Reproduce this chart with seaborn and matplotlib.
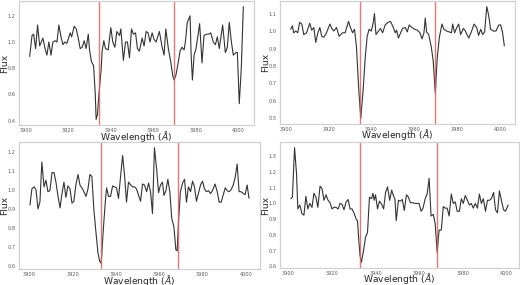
import numpy as np
import matplotlib
matplotlib.use("Agg")
import matplotlib.pyplot as plt
import seaborn as sns

# Espectros alrededor de las lineas H y K del Ca II
wl_a = [3901.9, 3903.0, 3903.75, 3904.7, 3905.6, 3906.6, 3908.1, 3909.1, 3910.0, 3910.9,
        3911.9, 3912.8, 3913.9, 3914.7, 3915.6, 3916.6, 3917.5, 3918.4, 3919.4, 3920.9,
        3921.6, 3922.8, 3923.75, 3924.7, 3925.6, 3926.6, 3927.5, 3928.4, 3929.4, 3930.0,
        3930.9, 3931.9, 3932.7, 3933.1, 3933.75, 3934.4, 3935.5, 3935.9, 3936.7, 3937.5,
        3938.75, 3940.0, 3940.9, 3941.9, 3942.8, 3944.1, 3944.7, 3945.9, 3946.9, 3947.8,
        3948.75, 3949.7, 3950.6, 3951.6, 3952.5, 3953.4, 3954.7, 3955.6, 3956.6, 3957.5,
        3958.4, 3959.4, 3960.3, 3961.25, 3962.8, 3964.1, 3965.0, 3965.8, 3967.0, 3968.1,
        3969.1, 3969.7, 3970.6, 3971.7, 3972.5, 3973.4, 3974.4, 3975.0, 3975.9, 3977.2,
        3977.7, 3978.3, 3979.1, 3980.0, 3980.9, 3981.7, 3982.8, 3983.75, 3985.0, 3985.9,
        3986.9, 3988.1, 3989.1, 3990.0, 3990.9, 3992.5, 3993.75, 3994.7, 3995.6, 3996.6,
        3997.5, 3998.75, 3999.4, 4000.3, 4001.25, 4002.2]
flux_a = [0.89, 1.05, 1.06, 0.95, 1.13, 0.97, 1.03, 0.95, 0.90, 1.00,
          0.90, 1.00, 1.01, 1.00, 1.13, 1.04, 0.98, 1.00, 0.99, 1.07,
          1.04, 1.12, 1.10, 1.03, 0.95, 0.96, 1.01, 0.95, 1.06, 0.94,
          0.85, 0.82, 0.60, 0.41, 0.45, 0.60, 0.80, 0.93, 1.01, 0.95,
          0.94, 1.11, 1.00, 0.96, 1.08, 1.05, 1.10, 0.86, 1.00, 1.00,
          0.88, 1.10, 1.06, 1.07, 0.95, 0.93, 1.03, 0.97, 1.08, 1.07,
          1.00, 1.07, 1.02, 1.00, 1.08, 0.96, 0.90, 1.10, 0.95, 0.85,
          0.74, 0.71, 0.75, 0.85, 0.93, 0.96, 0.94, 1.00, 1.15, 1.20,
          0.90, 0.71, 0.90, 0.95, 1.05, 1.14, 0.84, 1.05, 1.06, 1.06,
          1.07, 1.00, 0.98, 1.04, 0.95, 1.13, 0.92, 0.96, 1.15, 1.00,
          0.90, 0.92, 0.92, 0.53, 0.80, 1.27]

wl_b = [3902.3, 3903.1, 3903.7, 3904.7, 3905.6, 3906.5, 3907.5, 3908.4, 3909.7, 3911.2,
        3912.1, 3913.1, 3914.0, 3915.0, 3915.9, 3916.8, 3917.8, 3919.0, 3920.6, 3921.5,
        3922.4, 3923.7, 3924.9, 3926.5, 3927.7, 3929.3, 3930.2, 3931.2, 3932.1, 3933.0,
        3934.0, 3935.0, 3936.1, 3937.1, 3938.0, 3938.9, 3939.9, 3940.8, 3941.4, 3942.1,
        3943.3, 3944.2, 3945.2, 3946.4, 3947.7, 3948.9, 3950.2, 3951.1, 3951.7, 3952.6,
        3953.6, 3954.5, 3955.8, 3956.7, 3957.6, 3958.9, 3960.1, 3961.4, 3962.6, 3963.6,
        3964.5, 3965.1, 3965.7, 3966.7, 3967.9, 3968.8, 3969.8, 3970.7, 3971.7, 3972.9,
        3973.8, 3975.1, 3976.3, 3977.3, 3977.9, 3978.8, 3979.8, 3980.7, 3981.6, 3982.9,
        3983.8, 3985.4, 3986.6, 3987.9, 3989.1, 3990.0, 3991.0, 3991.9, 3992.8, 3993.8,
        3994.7, 3995.6, 3996.9, 3998.1, 3999.4, 4000.3, 4001.2, 4002.0]
flux_b = [1.01, 1.03, 0.99, 1.00, 0.99, 1.05, 1.04, 0.98, 0.99, 1.045,
          1.005, 1.02, 0.935, 0.99, 1.02, 0.97, 0.965, 0.99, 1.04, 1.015,
          1.00, 1.02, 0.97, 0.99, 0.99, 1.055, 1.02, 0.99, 1.01, 0.91,
          0.68, 0.50, 0.66, 0.85, 0.97, 1.01, 1.00, 1.045, 1.10, 0.98,
          1.00, 1.015, 0.99, 1.035, 1.05, 1.055, 1.02, 0.99, 1.005, 0.96,
          0.99, 1.015, 1.02, 0.995, 1.035, 1.02, 1.01, 1.005, 0.99, 0.955,
          0.99, 1.075, 0.995, 0.98, 0.91, 0.83, 0.645, 0.85, 0.965, 1.04,
          1.01, 1.00, 0.995, 0.99, 1.04, 0.99, 1.02, 1.04, 0.98, 1.015,
          1.00, 0.96, 0.995, 1.04, 1.02, 0.975, 1.01, 0.98, 0.995, 1.14,
          1.09, 1.01, 1.00, 1.00, 1.035, 1.035, 0.99, 0.915]

wl_c = [3900.3, 3901.2, 3902.2, 3903.1, 3904.0, 3904.9, 3905.8, 3906.8, 3907.7, 3908.6,
        3909.5, 3910.5, 3911.4, 3912.3, 3913.2, 3914.2, 3915.1, 3916.0, 3916.9, 3917.8,
        3918.8, 3919.7, 3920.6, 3921.5, 3922.5, 3923.4, 3924.3, 3925.2, 3926.2, 3927.1,
        3928.0, 3928.9, 3929.8, 3930.8, 3931.7, 3932.5, 3933.2, 3934.2, 3935.1, 3935.7,
        3936.6, 3937.5, 3938.5, 3939.4, 3940.3, 3941.2, 3942.2, 3943.1, 3944.0, 3944.9,
        3945.8, 3946.8, 3947.7, 3948.6, 3949.5, 3950.5, 3951.4, 3952.3, 3953.2, 3954.2,
        3955.1, 3956.0, 3956.9, 3957.8, 3958.8, 3959.7, 3960.6, 3961.5, 3962.2, 3963.1,
        3964.0, 3964.9, 3965.8, 3966.8, 3967.7, 3968.3, 3968.9, 3969.8, 3970.8, 3971.7,
        3972.6, 3973.5, 3974.5, 3975.4, 3976.3, 3977.2, 3978.2, 3979.1, 3980.0, 3980.9,
        3981.8, 3982.8, 3983.7, 3984.6, 3985.8, 3986.8, 3987.7, 3988.6, 3989.5, 3990.5,
        3991.4, 3992.3, 3993.2, 3994.2, 3995.1, 3996.0, 3996.9, 3997.8, 3998.8, 3999.7,
        4000.6, 4001.5]
flux_c = [0.92, 1.005, 1.015, 1.00, 0.90, 0.935, 1.145, 1.015, 1.05, 0.99,
          0.995, 1.09, 1.09, 1.04, 0.97, 0.905, 0.98, 1.04, 0.96, 1.02,
          1.005, 0.93, 0.94, 1.025, 1.08, 1.025, 1.01, 0.99, 0.965, 1.005,
          1.08, 1.07, 0.90, 0.775, 0.67, 0.625, 0.615, 0.795, 0.935, 1.01,
          0.965, 0.965, 1.02, 1.015, 1.01, 0.955, 1.075, 1.18, 1.075, 0.935,
          1.04, 1.025, 1.015, 1.015, 1.005, 0.97, 0.94, 1.03, 1.025, 0.99,
          1.035, 0.99, 0.875, 1.22, 1.11, 0.985, 1.025, 1.04, 0.97, 0.995,
          1.055, 0.99, 0.85, 0.805, 0.685, 0.68, 0.83, 0.99, 1.035, 1.055,
          0.935, 1.015, 0.99, 1.045, 1.015, 0.94, 0.985, 1.025, 1.045, 1.005,
          0.99, 0.995, 0.98, 0.995, 1.03, 0.99, 0.935, 0.935, 0.97, 1.01,
          0.995, 0.99, 1.00, 1.025, 1.065, 1.135, 0.99, 0.99, 0.98, 0.975,
          1.025, 0.955]

wl_d = [3901.1, 3901.8, 3902.8, 3903.7, 3904.3, 3905.2, 3906.2, 3907.1, 3908.0, 3908.9,
        3909.8, 3910.8, 3911.7, 3912.6, 3913.5, 3914.5, 3915.4, 3916.3, 3917.2, 3918.2,
        3919.1, 3920.0, 3920.9, 3921.8, 3922.8, 3923.7, 3924.6, 3925.5, 3926.5, 3927.4,
        3928.3, 3929.2, 3930.2, 3931.1, 3931.7, 3932.3, 3932.9, 3933.5, 3934.5, 3935.4,
        3936.3, 3937.2, 3938.2, 3938.8, 3939.4, 3940.0, 3940.9, 3941.8, 3942.8, 3943.7,
        3944.6, 3945.5, 3946.5, 3947.4, 3948.3, 3948.9, 3949.5, 3950.5, 3951.4, 3952.3,
        3953.2, 3954.2, 3955.1, 3956.0, 3956.9, 3958.2, 3959.1, 3960.0, 3960.9, 3961.8,
        3962.8, 3963.7, 3964.6, 3965.5, 3966.5, 3967.4, 3968.3, 3969.2, 3970.2, 3971.1,
        3972.0, 3972.9, 3973.8, 3974.8, 3975.7, 3976.6, 3977.5, 3978.5, 3979.4, 3980.3,
        3981.2, 3982.2, 3983.1, 3984.0, 3984.9, 3985.8, 3986.8, 3987.7, 3988.6, 3989.5,
        3990.5, 3991.4, 3992.3, 3993.2, 3994.2, 3995.1, 3996.0, 3996.9, 3997.8, 3998.8,
        3999.7, 4000.9]
flux_d = [1.03, 1.04, 1.355, 1.19, 0.965, 0.99, 0.935, 0.925, 1.045, 0.965,
          1.00, 0.975, 1.065, 1.04, 0.975, 1.11, 1.095, 1.02, 1.055, 1.02,
          1.005, 0.965, 0.975, 0.975, 0.965, 1.00, 0.995, 0.96, 1.01, 1.025,
          0.965, 0.965, 0.935, 0.90, 0.89, 0.765, 0.665, 0.625, 0.70, 0.785,
          0.815, 1.04, 1.03, 1.065, 1.02, 1.055, 0.965, 1.015, 0.995, 0.965,
          1.07, 1.105, 1.02, 1.085, 1.045, 1.03, 0.89, 1.02, 1.015, 1.025,
          0.955, 1.055, 1.04, 1.005, 1.005, 1.00, 1.00, 1.00, 0.95, 0.97,
          1.03, 1.06, 1.16, 0.92, 0.93, 0.87, 0.69, 0.83, 0.83, 0.98,
          0.97, 0.97, 0.92, 1.06, 1.00, 1.01, 0.95, 0.95, 1.03, 1.00,
          1.05, 1.02, 0.99, 1.00, 0.97, 1.00, 0.97, 1.06, 1.00, 1.03,
          0.95, 1.02, 1.02, 1.03, 1.07, 0.96, 0.94, 1.08, 1.02, 0.96,
          0.95, 0.99]

# posiciones de Ca II K y H marcadas en cada panel
lines_a = [3934.5, 3969.6]
lines_b = [3934.8, 3969.7]
lines_c = [3933.3, 3968.8]
lines_d = [3932.9, 3968.2]

panels = [
    (wl_a, flux_a, lines_a, [19, 1, 254, 125]),
    (wl_b, flux_b, lines_b, [280, 1, 515, 124]),
    (wl_c, flux_c, lines_c, [19, 142, 260, 269]),
    (wl_d, flux_d, lines_d, [280, 142, 519, 268]),
]

sns.set_style("white", {"axes.edgecolor": ".82", "xtick.color": ".35", "ytick.color": ".35"})
plt.rcParams["font.family"] = ["DejaVu Sans"]

W, H = 520, 285
fig = plt.figure(figsize=(W / 100, H / 100), dpi=100)

for wl, fl, lines, (x0, y0, x1, y1) in panels:
    ax = fig.add_axes([x0 / W, 1 - y1 / H, (x1 - x0) / W, (y1 - y0) / H])
    sns.lineplot(x=wl, y=fl, ax=ax, color="#333333", linewidth=0.8)
    for lw in lines:
        ax.axvline(lw, color="#e06060", linewidth=1.0, alpha=0.85)
    ax.set_xticks([3900, 3920, 3940, 3960, 3980, 4000])
    ax.tick_params(labelsize=3.6, length=0, pad=2.5)
    for s in ax.spines.values():
        s.set_linewidth(0.9)
    ax.set_xlabel("Wavelength ($\\AA$)", fontsize=6.6, va="center")
    ax.set_ylabel("Flux", fontsize=6.6, va="center")
    ax.xaxis.set_label_coords(0.5, -11 / (y1 - y0))
    ax.yaxis.set_label_coords(-14.5 / (x1 - x0), 0.5)

fig.savefig("out.png", dpi=100)
